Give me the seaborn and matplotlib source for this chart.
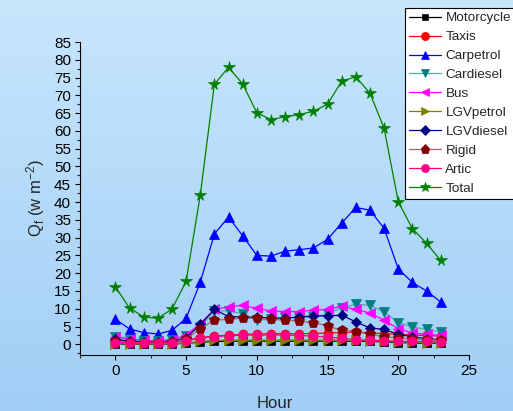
import numpy as np
import pandas as pd
import matplotlib
matplotlib.use("Agg")
import matplotlib.pyplot as plt
import seaborn as sns
from matplotlib.ticker import MultipleLocator

hours = list(range(24))
motorcycle = [0.1, 0.05, 0.05, 0.05, 0.1, 0.3, 0.6, 0.8, 0.9, 0.9, 0.9, 0.9, 0.9, 0.9, 0.9, 0.9, 0.9, 0.9, 0.8, 0.7, 0.5, 0.4, 0.3, 0.3]
taxis = [0.9, 0.7, 0.6, 0.6, 0.7, 1.1, 1.9, 2.3, 2.6, 2.8, 2.9, 3.0, 3.0, 3.0, 3.0, 3.2, 3.3, 3.5, 3.2, 3.0, 2.8, 2.6, 2.5, 2.3]
carpetrol = [7.1, 4.3, 3.3, 2.9, 3.9, 7.3, 17.4, 31.0, 35.8, 30.5, 25.0, 24.8, 26.2, 26.6, 27.1, 29.5, 34.1, 38.5, 37.7, 32.6, 21.2, 17.4, 15.0, 11.9]
cardiesel = [2.0, 1.3, 1.0, 0.9, 1.2, 2.3, 5.0, 9.3, 9.5, 8.6, 6.8, 7.0, 7.3, 7.4, 7.6, 8.6, 10.3, 11.2, 11.0, 9.1, 6.1, 4.9, 4.2, 3.5]
bus = [2.2, 1.6, 1.1, 1.0, 1.3, 2.6, 5.8, 9.8, 10.5, 11.0, 10.1, 9.4, 9.2, 9.2, 9.6, 9.8, 10.7, 9.8, 8.8, 6.8, 4.4, 3.2, 2.8, 2.5]
lgvpetrol = [0.2, 0.15, 0.1, 0.1, 0.2, 0.4, 0.8, 1.1, 1.2, 1.2, 1.2, 1.2, 1.2, 1.2, 1.2, 1.2, 1.2, 1.1, 1.0, 0.9, 0.7, 0.6, 0.5, 0.4]
lgvdiesel = [1.4, 0.9, 0.7, 0.6, 0.9, 1.8, 5.6, 9.8, 7.8, 7.7, 7.6, 7.4, 7.4, 7.7, 8.0, 8.0, 8.2, 6.3, 4.6, 4.2, 2.8, 2.1, 1.6, 1.3]
rigid = [0.9, 0.6, 0.5, 0.5, 0.7, 1.5, 4.4, 6.8, 7.0, 7.4, 7.3, 7.0, 6.8, 6.5, 6.1, 5.2, 3.9, 3.6, 2.8, 2.1, 1.8, 1.5, 1.3, 1.1]
artic = [0.5, 0.4, 0.4, 0.4, 0.5, 1.0, 1.7, 2.2, 2.4, 2.6, 2.6, 2.6, 2.6, 2.5, 2.3, 2.0, 1.7, 1.3, 1.2, 1.0, 0.9, 0.8, 0.8, 0.7]
total = [16.2, 10.2, 7.7, 7.3, 9.9, 17.7, 41.9, 73.1, 77.9, 73.2, 65.1, 63.2, 64.0, 64.6, 65.5, 67.5, 74.0, 75.2, 70.6, 60.7, 40.1, 32.5, 28.4, 23.6]

names = ["Motorcycle", "Taxis", "Carpetrol", "Cardiesel", "Bus", "LGVpetrol",
         "LGVdiesel", "Rigid", "Artic", "Total"]
series = [motorcycle, taxis, carpetrol, cardiesel, bus, lgvpetrol,
          lgvdiesel, rigid, artic, total]
marker_colors = ["#000000", "#ff0000", "#0000ff", "#008080", "#ff00ff", "#808000",
                 "#000080", "#800000", "#ff0080", "#008000"]
line_colors = ["#000000", "#ff0000", "#0000ff", "#4fb0b0", "#ff00ff", "#808000",
               "#000080", "#b06060", "#ff0080", "#008000"]
markers = ["s", "o", "^", "v", "<", ">", "D", "p", "o", "*"]
msizes = [5.5, 6.5, 7, 7, 7, 7, 5.5, 7.5, 6.5, 8.5]

sns.set_style("ticks")
plt.rcParams['font.family'] = ['Liberation Sans', 'DejaVu Sans']
plt.rcParams['mathtext.fontset'] = 'custom'
plt.rcParams['mathtext.rm'] = 'Liberation Sans'
plt.rcParams['mathtext.it'] = 'Liberation Sans'

fig = plt.figure(figsize=(5.13, 4.11), dpi=100)

# background gradient
bg = fig.add_axes([0, 0, 1, 1], zorder=-10)
top = np.array([200, 230, 252]) / 255.0
bot = np.array([160, 206, 246]) / 255.0
t = np.linspace(0, 1, 256)[:, None]
grad = top[None, :] * (1 - t) + bot[None, :] * t
bg.imshow(grad[:, None, :].repeat(2, axis=1), aspect='auto', extent=[0, 1, 0, 1])
bg.set_axis_off()

ax = fig.add_axes([80 / 513, 1 - 355 / 411, (469 - 80) / 513, (355 - 42) / 411])
ax.set_facecolor('none')

for name, vals, mc, lc, mk, ms in zip(names, series, marker_colors, line_colors, markers, msizes):
    df = pd.DataFrame({"Hour": hours, "Q": vals})
    sns.lineplot(data=df, x="Hour", y="Q", ax=ax, color=lc, linewidth=0.9,
                 marker=mk, markersize=ms, markerfacecolor=mc, markeredgecolor=mc,
                 markeredgewidth=0.5, label=name, legend=False)

ax.set_xlim(-2.5, 25)
ax.set_ylim(-3, 85)
ax.xaxis.set_major_locator(MultipleLocator(5))
ax.xaxis.set_minor_locator(MultipleLocator(2.5))
ax.yaxis.set_major_locator(MultipleLocator(5))
ax.yaxis.set_minor_locator(MultipleLocator(2.5))
ax.tick_params(which='major', direction='out', length=3.5, width=0.8, pad=3,
               labelsize=11, colors='black')
ax.tick_params(which='minor', direction='out', length=2, width=0.8)
for s in ['top', 'right']:
    ax.spines[s].set_visible(False)
for s in ['left', 'bottom']:
    ax.spines[s].set_linewidth(0.8)
    ax.spines[s].set_color('black')

ax.set_xlabel("Hour", fontsize=12, labelpad=13)
ax.set_ylabel(r"Q$_\mathregular{f}$ (w m$^\mathregular{-2}$)", fontsize=12, labelpad=5)

handles, labels = ax.get_legend_handles_labels()
leg = fig.legend(handles, labels, loc='upper left',
                 bbox_to_anchor=(405 / 513, 1 - 8 / 411), bbox_transform=fig.transFigure,
                 fontsize=9.7, frameon=True, fancybox=False, framealpha=1,
                 edgecolor='black', facecolor='white', borderaxespad=0,
                 handlelength=2.4, handletextpad=0.3, labelspacing=0.48,
                 borderpad=0.3, markerscale=0.9)
leg.get_frame().set_linewidth(0.8)

fig.savefig("out.png", dpi=100)
